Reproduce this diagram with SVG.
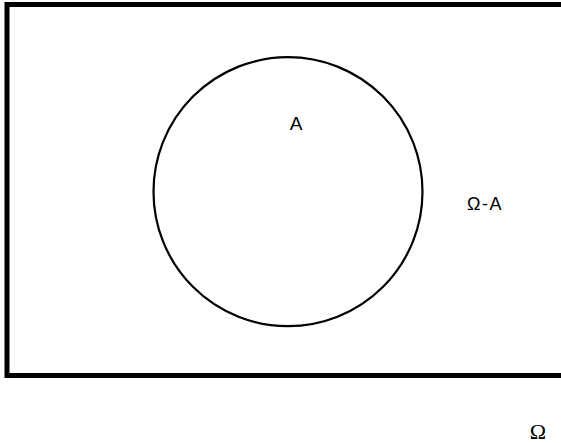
<svg xmlns="http://www.w3.org/2000/svg" width="561" height="443" viewBox="0 0 561 443">
<style>
.lbl{font-family:"Liberation Sans",Arial,sans-serif;fill:#000}
</style>
<rect width="561" height="443" fill="#fff"/>
<g id="universe">
<rect x="7" y="4.5" width="570" height="371" fill="none" stroke="#000" stroke-width="5"/>
<text class="lbl" x="485" y="209.5" font-size="18" text-anchor="middle" letter-spacing="1.5">Ω-A</text>
</g>
<g id="setA">
<circle cx="288" cy="191.7" r="134.5" fill="none" stroke="#000" stroke-width="2.2"/>
<text class="lbl" x="296" y="130" font-size="19" text-anchor="middle">A</text>
</g>
<g id="omega">
<text x="538" y="439" font-family="Liberation Serif,'Times New Roman',serif" font-size="22" text-anchor="middle">Ω</text>
</g>
<g id="connectors"/>
</svg>
